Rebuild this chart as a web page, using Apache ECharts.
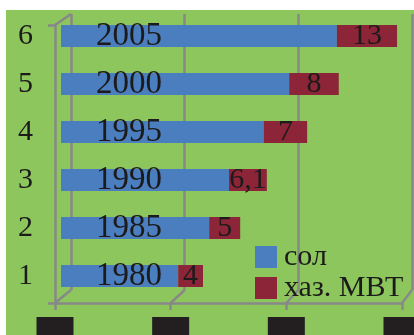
<!DOCTYPE html>
<html>
<head>
<meta charset="utf-8">
<script src="https://cdn.jsdelivr.net/npm/echarts@6/dist/echarts.min.js"></script>
<style>
  html, body { margin: 0; padding: 0; background: #fff; }
  #wrap { position: relative; width: 414px; height: 335px; overflow: hidden; }
  #bg { position: absolute; left: 6px; top: 10px; right: 0; bottom: 0; background: #8cc65c; }
  #main { position: absolute; left: 0; top: 0; width: 414px; height: 335px; }
</style>
</head>
<body>
<div id="wrap"><div id="bg"></div><div id="main"></div></div>
<script>
const categories = ['1', '2', '3', '4', '5', '6'];
const years = ['1980', '1985', '1990', '1995', '2000', '2005'];
const solValues = [18.9, 23.9, 27.1, 32.7, 36.8, 44.5];
const mvtValues = [4, 5, 6.1, 7, 8, 9.7];
const mvtLabels = ['4', '5', '6,1', '7', '8', '13'];

const font = 'Liberation Serif';
const ink = '#1c1a1a';
const lineColor = '#888888';
const lw = 2.5;

// front and back "walls" of the excel 3d look
const front = { left: 55, top: 25, width: 347, bottom: 303 };
const back = { left: 71, top: 14, width: 341, bottom: 290 };

const myChart = echarts.init(document.getElementById('main'));

const diag = [];
diag.push([front.left, front.top, back.left, back.top]);
for (let i = 0; i <= 3; i++) {
  diag.push([front.left + i * front.width / 3, front.bottom, back.left + i * back.width / 3, back.bottom]);
}

const option = {
  animation: false,
  backgroundColor: 'transparent',
  grid: [
    { left: back.left, top: back.top, width: back.width, height: back.bottom - back.top, outerBoundsMode: 'none' },
    { left: front.left, top: front.top, width: front.width, height: front.bottom - front.top, outerBoundsMode: 'none' },
    { left: 61, top: 12, width: 372, height: 288, outerBoundsMode: 'none' }
  ],
  xAxis: [
    {
      gridIndex: 0, type: 'value', min: 0, max: 60, interval: 20,
      axisLine: { show: false }, axisTick: { show: false }, axisLabel: { show: false },
      splitLine: { show: true, lineStyle: { color: lineColor, width: lw } }
    },
    {
      gridIndex: 1, type: 'value', min: 0, max: 60, interval: 20,
      axisLine: { show: true, lineStyle: { color: lineColor, width: lw } },
      axisTick: { show: true, length: 7, lineStyle: { color: lineColor, width: lw } },
      splitLine: { show: false },
      axisLabel: {
        margin: 14,
        formatter: (v) => '{b|' + v + '}',
        rich: { b: { backgroundColor: '#231f20', color: '#231f20', width: 37, height: 26, align: 'center' } }
      }
    },
    {
      gridIndex: 2, type: 'value', min: 0, max: 60, show: false
    }
  ],
  yAxis: [
    { gridIndex: 0, type: 'value', show: false },
    {
      gridIndex: 1, type: 'value', min: 0, max: 1, interval: 1,
      axisLine: { show: true, lineStyle: { color: lineColor, width: lw } },
      axisTick: { show: true, length: 7, lineStyle: { color: lineColor, width: lw } },
      axisLabel: { show: false }, splitLine: { show: false }
    },
    {
      gridIndex: 2, type: 'category', data: categories,
      axisLine: { show: false }, axisTick: { show: false }, splitLine: { show: false },
      axisLabel: { margin: 28, fontFamily: font, fontSize: 30, color: ink }
    }
  ],
  legend: {
    orient: 'vertical',
    left: 255,
    top: 242,
    padding: 0,
    itemWidth: 22,
    itemHeight: 22,
    itemGap: 1,
    icon: 'rect',
    textStyle: { fontFamily: font, fontSize: 30, color: ink, padding: [0, 0, 0, 2] },
    data: ['сол', 'хаз. МВТ']
  },
  graphic: diag.map((d) => ({
    type: 'line',
    shape: { x1: d[0], y1: d[1], x2: d[2], y2: d[3] },
    style: { stroke: lineColor, lineWidth: lw },
    z: 1
  })),
  series: [
    {
      name: 'сол',
      type: 'bar',
      xAxisIndex: 2,
      yAxisIndex: 2,
      stack: 'a',
      barWidth: 22,
      data: solValues,
      itemStyle: { color: '#4a7ebf' },
      label: {
        show: true,
        position: [35, '50%'],
        align: 'left',
        verticalAlign: 'middle',
        fontFamily: font,
        fontSize: 33,
        color: ink,
        formatter: (p) => years[p.dataIndex]
      },
      z: 3
    },
    {
      name: 'хаз. МВТ',
      type: 'bar',
      xAxisIndex: 2,
      yAxisIndex: 2,
      stack: 'a',
      barWidth: 22,
      data: mvtValues,
      itemStyle: { color: '#8b2537' },
      label: {
        show: true,
        position: 'inside',
        fontFamily: font,
        fontSize: 30,
        color: ink,
        formatter: (p) => mvtLabels[p.dataIndex]
      },
      z: 3
    }
  ]
};

myChart.setOption(option);
</script>
</body>
</html>
